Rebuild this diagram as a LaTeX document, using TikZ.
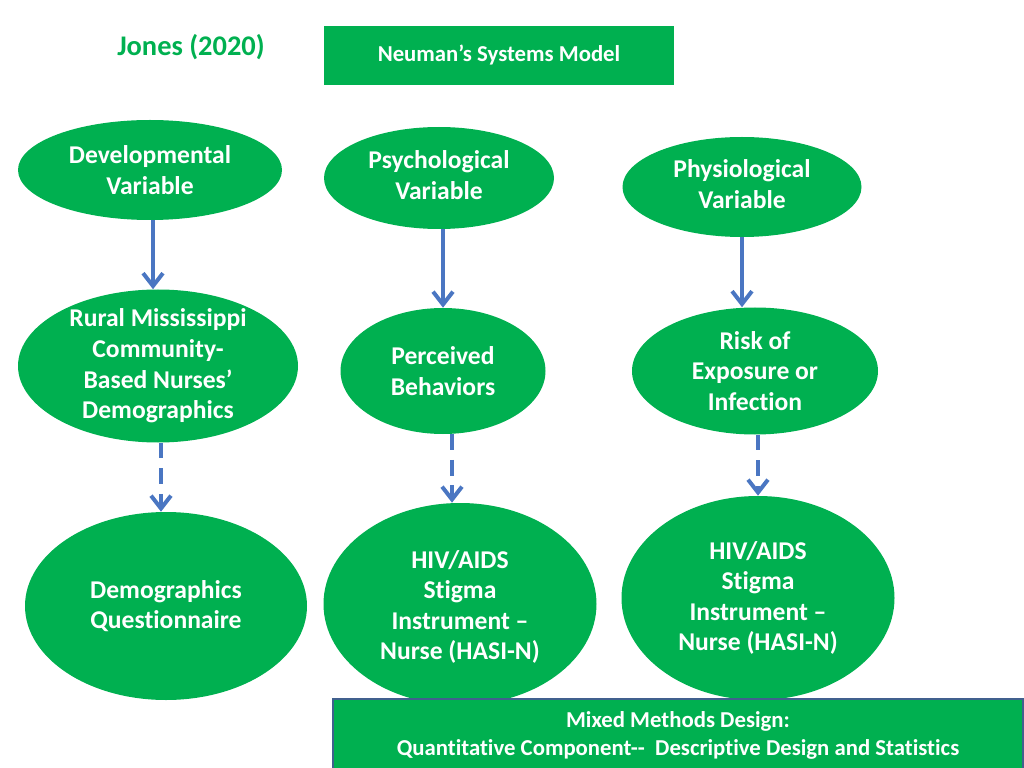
\documentclass[tikz,border=0pt]{standalone}
\usepackage{fontspec}
\setmainfont{Carlito}[Ligatures={NoCommon,TeXOff}]
\usepackage{xcolor}
\usepackage{tikz}
\usetikzlibrary{shapes.geometric,arrows.meta}
\definecolor{nsmgreen}{HTML}{00B050}
\definecolor{nsmblue}{HTML}{4A76C2}
\definecolor{nsmborder}{HTML}{41608E}
\newcommand{\pxu}{0.703125pt}

\begin{document}
\begin{tikzpicture}[x=\pxu,y=\pxu,yscale=-1,xscale=1,
  oval/.style={ellipse,fill=nsmgreen,draw=none,inner sep=0pt},
  ovaltext/.style={text=white,font=\fontsize{18}{21.5}\selectfont\bfseries,align=center,inner sep=0pt},
  link/.style={draw=nsmblue,line width=2.8pt,-{Straight Barb[length=9pt,width=14pt,line width=2.8pt]}},
  dashlink/.style={link,dash pattern=on 11pt off 7pt}]
\useasboundingbox (0,0) rectangle (1024,768);

% Text Node
\node[text=nsmgreen,font=\fontsize{20}{24}\selectfont\bfseries,inner sep=0pt] (author) at (191,47) {Jones (2020)};
%Shape: Rectangle
\node[fill=nsmgreen,minimum width=350*\pxu,minimum height=59*\pxu,text=white,font=\fontsize{16}{19}\selectfont\bfseries] (model) at (499,55.5) {Neuman’s Systems Model};

%Shape: Ellipse (row 1)
\node[oval,minimum width=264*\pxu,minimum height=100*\pxu] (dev) at (150,170) {};
\node[ovaltext] (devtxt) at (dev) {Developmental\\Variable};
\node[oval,minimum width=230*\pxu,minimum height=102*\pxu] (psy) at (439,178) {};
\node[ovaltext] (psytxt) at (439,175) {Psychological\\Variable};
\node[oval,minimum width=239*\pxu,minimum height=100*\pxu] (phy) at (742,187) {};
\node[ovaltext] (phytxt) at (742,184) {Physiological\\Variable};

%Shape: Ellipse (row 2)
\node[oval,minimum width=280*\pxu,minimum height=153*\pxu] (rural) at (158,366) {};
\node[ovaltext] (ruraltxt) at (rural) {Rural Mississippi\\Community-\\Based Nurses’\\Demographics};
\node[oval,minimum width=205*\pxu,minimum height=126*\pxu] (perc) at (443,371) {};
\node[ovaltext] (perctxt) at (perc) {Perceived\\Behaviors};
\node[oval,minimum width=246*\pxu,minimum height=127*\pxu] (risk) at (755,371) {};
\node[ovaltext] (risktxt) at (risk) {Risk of\\Exposure or\\Infection};

%Shape: Ellipse (row 3)
\node[oval,minimum width=282*\pxu,minimum height=188*\pxu] (demq) at (166,606) {};
\node[ovaltext] (demqtxt) at (demq) {Demographics\\Questionnaire};
\node[oval,minimum width=273*\pxu,minimum height=202*\pxu] (hivm) at (460,604) {};
\node[ovaltext] (hivmtxt) at (460,607) {HIV/AIDS\\Stigma\\Instrument –\\Nurse (HASI-N)};
\node[oval,minimum width=273*\pxu,minimum height=204*\pxu] (hivr) at (758,598) {};
\node[ovaltext] (hivrtxt) at (hivr) {HIV/AIDS\\Stigma\\Instrument –\\Nurse (HASI-N)};

%Shape: Rectangle (design)
\node[fill=nsmgreen,draw=nsmborder,line width=1.4pt,minimum width=690*\pxu,minimum height=72*\pxu,text=white,align=center,font=\fontsize{16}{19.7}\selectfont\bfseries] (design) at (678,735) {Mixed Methods Design:\\Quantitative Component-{}-\ \ Descriptive Design and Statistics};

% Arrows
\draw[link] ([xshift=3*\pxu]dev.south) -- ([xshift=3*\pxu]dev.south |- rural.north);
\draw[link] ([xshift=4*\pxu]psy.south) -- ([xshift=4*\pxu]psy.south |- perc.north);
\draw[link] (phy.south) -- (phy.south |- risk.north);
\draw[dashlink] ([xshift=3*\pxu]rural.south) -- ([xshift=3*\pxu]rural.south |- demq.north);
\draw[dashlink] ([xshift=9*\pxu]perc.south) -- ([xshift=9*\pxu]perc.south |- hivm.north);
\draw[dashlink] ([xshift=3*\pxu]risk.south) -- ([xshift=3*\pxu]risk.south |- hivr.north);
\end{tikzpicture}
\end{document}
